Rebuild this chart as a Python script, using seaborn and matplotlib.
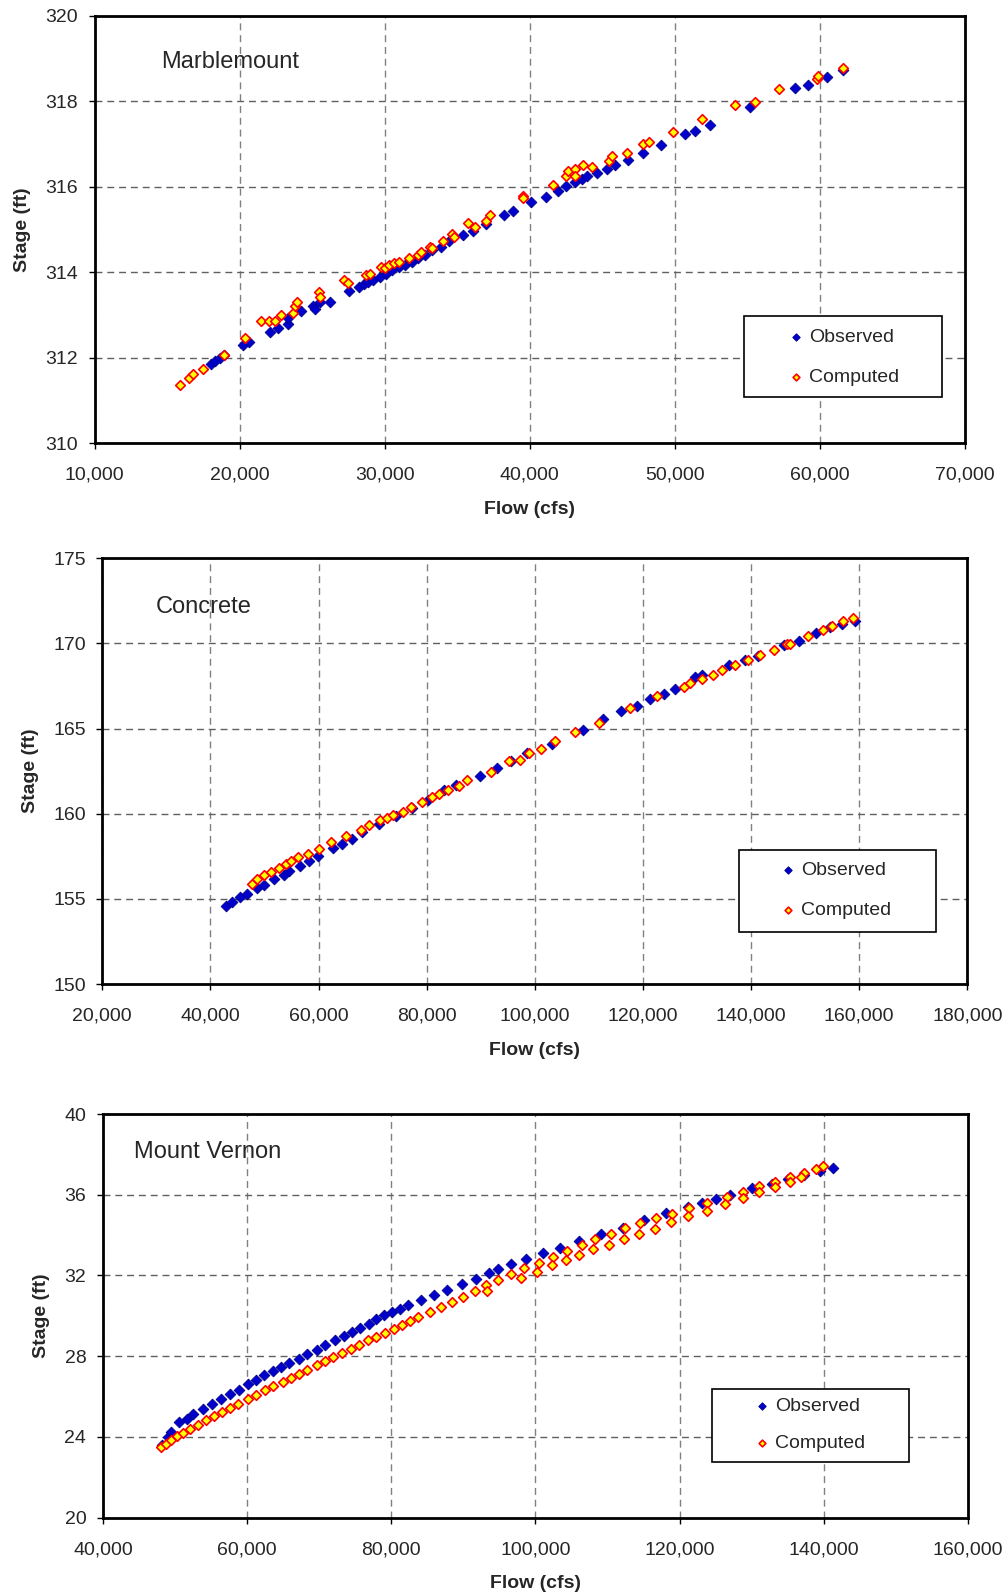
import numpy as np
import pandas as pd
import matplotlib
matplotlib.use("Agg")
import matplotlib.pyplot as plt
import seaborn as sns
from matplotlib.patches import Rectangle
from matplotlib.ticker import FuncFormatter

# ---- Marblemount ----
mm_obs_flow = [18030, 18300, 18650, 18900, 20240, 20640, 22100, 22640, 23300, 23300, 24200,
               25030, 25200, 25560, 26190, 27560, 28230, 28540, 28850, 29200, 29650, 30090,
               30530, 30980, 31420, 31860, 32300, 32750, 33280, 33860, 34430, 35410, 36070,
               36960, 38200, 38870, 40110, 41090, 41970, 42510, 43080, 43610, 43970, 44630,
               45340, 45880, 46760, 47830, 49020, 50710, 51370, 52440, 55190, 58290, 59180,
               60470, 61570]
mm_obs_stage = [311.85, 311.93, 312.0, 312.07, 312.3, 312.36, 312.6, 312.69, 312.8, 312.92, 313.1,
                313.2, 313.13, 313.3, 313.31, 313.55, 313.66, 313.72, 313.78, 313.82, 313.9, 313.96,
                314.05, 314.12, 314.17, 314.25, 314.33, 314.4, 314.52, 314.6, 314.72, 314.86, 314.96,
                315.13, 315.34, 315.43, 315.65, 315.77, 315.9, 316.02, 316.1, 316.18, 316.24, 316.33,
                316.41, 316.5, 316.63, 316.8, 316.98, 317.23, 317.3, 317.45, 317.86, 318.3, 318.39,
                318.57, 318.73]
mm_cmp_flow = [15850, 16470, 16780, 17490, 18910, 20380, 21490, 22020, 22460, 22860, 23660,
               23790, 23970, 25430, 25560, 27200, 27430, 28670, 28980, 29730, 30000, 30310,
               30620, 30980, 31640, 32300, 32530, 33100, 33280, 33990, 34610, 34790, 35720,
               36210, 36960, 37270, 39530, 39530, 41620, 42510, 42640, 43080, 43080, 43660,
               44280, 45430, 45650, 46720, 47830, 48180, 49870, 51860, 54170, 55500, 57190,
               59800, 59850, 61570]
mm_cmp_stage = [311.37, 311.53, 311.62, 311.74, 312.06, 312.46, 312.85, 312.87, 312.85, 313.0, 313.04,
                313.21, 313.31, 313.53, 313.41, 313.83, 313.76, 313.94, 313.96, 314.13, 314.1, 314.17,
                314.22, 314.25, 314.33, 314.4, 314.48, 314.6, 314.56, 314.74, 314.89, 314.83, 315.16,
                315.07, 315.2, 315.34, 315.79, 315.73, 316.03, 316.26, 316.37, 316.41, 316.24, 316.52,
                316.45, 316.61, 316.72, 316.8, 316.99, 317.04, 317.28, 317.58, 317.91, 317.97, 318.29,
                318.51, 318.6, 318.77]

# ---- Concrete ----
cc_obs_flow = [42840, 44030, 45460, 46770, 48550, 49980, 51760, 53550, 54500, 56520, 58310,
               59970, 62590, 64260, 66160, 68060, 71150, 74370, 77340, 80320, 83290, 85430,
               89830, 93040, 95540, 98520, 103270, 108860, 112670, 116000, 118970, 121350,
               123970, 125870, 129680, 130870, 135870, 138960, 141340, 146100, 148950, 152050,
               154660, 156800, 159190]
cc_obs_stage = [154.61, 154.83, 155.12, 155.28, 155.65, 155.84, 156.14, 156.43, 156.65, 156.94, 157.23,
                157.53, 157.96, 158.21, 158.54, 158.93, 159.42, 159.85, 160.36, 160.83, 161.38, 161.67,
                162.22, 162.71, 163.1, 163.57, 164.11, 164.93, 165.58, 166.01, 166.32, 166.71,
                167.04, 167.34, 168.02, 168.16, 168.71, 169.0, 169.29, 169.88, 170.17, 170.62,
                170.95, 171.15, 171.34]
cc_cmp_flow = [47600, 48550, 49980, 51170, 52600, 53900, 54980, 56280, 58070, 60090, 62350,
               65090, 67820, 69370, 71390, 72580, 73770, 75560, 77100, 79130, 80910, 82340,
               83890, 85910, 87460, 91860, 95190, 97330, 98990, 101130, 103750, 107440, 111840,
               117550, 122550, 127540, 128730, 130870, 133010, 134680, 137060, 139440, 141580,
               144200, 146580, 147290, 150500, 153240, 155020, 157050, 158830]
cc_cmp_stage = [155.9, 156.16, 156.39, 156.59, 156.82, 157.02, 157.21, 157.43, 157.66, 157.92, 158.31,
                158.68, 159.07, 159.32, 159.62, 159.77, 159.91, 160.11, 160.4, 160.69, 160.99, 161.18,
                161.38, 161.61, 161.96, 162.45, 163.1, 163.17, 163.58, 163.82, 164.27, 164.8, 165.32,
                166.2, 166.91, 167.44, 167.69, 167.89, 168.16, 168.45, 168.71, 169.0, 169.33,
                169.59, 169.94, 169.98, 170.41, 170.76, 171.01, 171.34, 171.5]

# ---- Mount Vernon ----
mv_obs_flow = [48200, 49000, 49370, 50530, 51600, 52490, 53830, 55170, 56330, 57660, 58910,
               60070, 61230, 62300, 63640, 64710, 65870, 67210, 68370, 69620, 70780, 72120,
               73450, 74610, 75680, 76840, 77910, 78980, 80140, 81210, 82370, 84160, 85940,
               87730, 89780, 91740, 93520, 94860, 96650, 98700, 101110, 103340, 106010, 109140,
               112080, 115120, 118060, 121180, 123140, 125020, 126980, 130100, 132780, 135010,
               137240, 139470, 141250]
mv_obs_stage = [23.6, 24.0, 24.25, 24.74, 24.91, 25.16, 25.4, 25.65, 25.87, 26.15, 26.35,
                26.61, 26.84, 27.06, 27.27, 27.47, 27.67, 27.88, 28.1, 28.33, 28.55, 28.79,
                28.99, 29.21, 29.4, 29.62, 29.82, 30.02, 30.2, 30.36, 30.56, 30.78, 31.02,
                31.27, 31.6, 31.85, 32.1, 32.31, 32.55, 32.81, 33.12, 33.37, 33.72, 34.05,
                34.36, 34.74, 35.11, 35.4, 35.57, 35.79, 35.98, 36.31, 36.53, 36.78,
                36.98, 37.17, 37.34]
mv_cmp_flow = [48030, 48740, 49370, 50260, 51150, 52130, 53200, 54270, 55430, 56500, 57660,
               58730, 60070, 61230, 62480, 63640, 64980, 66050, 67210, 68370, 69620, 70780,
               71940, 73180, 74340, 75500, 76750, 77910, 79070, 80320, 81480, 82640, 83710,
               85320, 86830, 88440, 89960, 91560, 93080, 94860, 96650, 98430, 100480, 102450,
               104410, 106460, 108250, 110470, 112440, 114490, 116720, 118950, 121360, 123860,
               126540, 128760, 130990, 133220, 135280, 137240, 138850, 139910,
               93260, 98000, 100210, 102270, 104230, 106010, 107980, 110210, 112260, 114310,
               116540, 118770, 121180, 123860, 126270, 128760, 130990, 133220, 135280, 136790]
mv_cmp_stage = [23.5, 23.67, 23.83, 24.03, 24.2, 24.41, 24.61, 24.83, 25.02, 25.24, 25.44,
                25.65, 25.9, 26.1, 26.31, 26.51, 26.73, 26.93, 27.14, 27.34, 27.55, 27.75,
                27.97, 28.17, 28.38, 28.58, 28.79, 28.96, 29.17, 29.37, 29.54, 29.74, 29.95,
                30.2, 30.45, 30.69, 30.94, 31.24, 31.52, 31.8, 32.07, 32.35, 32.63, 32.93,
                33.22, 33.5, 33.79, 34.08, 34.33, 34.58, 34.83, 35.07, 35.32, 35.57,
                35.9, 36.15, 36.43, 36.64, 36.86, 37.06, 37.26, 37.42,
                31.24, 31.9, 32.18, 32.51, 32.76, 33.0, 33.29, 33.52, 33.82, 34.08,
                34.3, 34.66, 34.94, 35.2, 35.54, 35.82, 36.15, 36.4, 36.61, 36.86]

panel_names = ["Marblemount", "Concrete", "Mount Vernon"]
x_limits = [(10000, 70000), (20000, 180000), (40000, 160000)]
x_steps = [10000, 20000, 20000]
y_limits = [(310, 320), (150, 175), (20, 40)]
y_steps = [2, 5, 4]

sns.set_style("white")
plt.rcParams["font.family"] = ["Liberation Sans", "DejaVu Sans"]

fig = plt.figure(figsize=(10.08, 15.95), dpi=100)

axes_rects = [[0.09395, 0.72207, 0.86339, 0.26809],
              [0.10149, 0.38307, 0.85813, 0.26690],
              [0.10218, 0.04846, 0.85813, 0.25310]]
ylabel_x = [-0.073, -0.073, -0.061]
xlabel_y = [-0.135, -0.136, -0.1415]
name_pos = [(0.076, 0.891), (0.0617, 0.885), (0.0356, 0.906)]
legend_box = [(0.7461, 0.1083, 0.2275, 0.1894),
              (0.7355, 0.1226, 0.2281, 0.1912),
              (0.7037, 0.1372, 0.2284, 0.1816)]
legend_anchor = [(0.7952, 0.2021), (0.7815, 0.2196), (0.7507, 0.2304)]
legend_spacing = [1.15, 1.15, 0.99]

data = [(mm_obs_flow, mm_obs_stage, mm_cmp_flow, mm_cmp_stage),
        (cc_obs_flow, cc_obs_stage, cc_cmp_flow, cc_cmp_stage),
        (mv_obs_flow, mv_obs_stage, mv_cmp_flow, mv_cmp_stage)]

comma = FuncFormatter(lambda v, p: f"{int(v):,}")

for i in range(3):
    ax = fig.add_axes(axes_rects[i])
    of, os_, cf, cs = data[i]
    obs = pd.DataFrame({"Flow": of, "Stage": os_})
    cmp_ = pd.DataFrame({"Flow": cf, "Stage": cs})
    sns.scatterplot(data=obs, x="Flow", y="Stage", marker="D", s=30, color="#0000CC",
                    edgecolor="#00008B", linewidth=0.6, ax=ax, zorder=3, label="Observed")
    sns.scatterplot(data=cmp_, x="Flow", y="Stage", marker="D", s=24, color="#FFFF00",
                    edgecolor="#FF0000", linewidth=1.2, ax=ax, zorder=4, label="Computed")

    ax.set_xlim(*x_limits[i])
    ax.set_ylim(*y_limits[i])
    ax.set_xticks(np.arange(x_limits[i][0], x_limits[i][1] + 1, x_steps[i]))
    ax.set_yticks(np.arange(y_limits[i][0], y_limits[i][1] + 0.1, y_steps[i]))
    ax.xaxis.set_major_formatter(comma)
    ax.grid(True, axis="x", color="#808080", linestyle=(0, (5, 3.5)), linewidth=1)
    ax.grid(True, axis="y", color="#606060", linestyle=(0, (5, 3.5)), linewidth=1)
    ax.set_axisbelow(True)
    for sp in ax.spines.values():
        sp.set_visible(True)
        sp.set_color("black")
        sp.set_linewidth(2)
    ax.tick_params(axis="both", which="major", direction="out", length=4, width=1,
                   color="black", labelsize=14, left=True, bottom=True)
    ax.tick_params(axis="x", pad=13)
    ax.tick_params(axis="y", pad=8)

    ax.set_xlabel("Flow (cfs)", fontsize=14, fontweight="bold")
    ax.set_ylabel("Stage (ft)", fontsize=14, fontweight="bold")
    ax.xaxis.set_label_coords(0.5, xlabel_y[i])
    ax.yaxis.set_label_coords(ylabel_x[i], 0.5)

    ax.text(name_pos[i][0], name_pos[i][1], panel_names[i], transform=ax.transAxes,
            fontsize=17, ha="left", va="center")

    bx, by, bw, bh = legend_box[i]
    ax.add_patch(Rectangle((bx, by), bw, bh, transform=ax.transAxes, facecolor="white",
                           edgecolor="black", linewidth=1.2, zorder=5))
    handles, labels = ax.get_legend_handles_labels()
    leg = ax.legend(handles, labels, loc="center left", bbox_to_anchor=legend_anchor[i],
                    frameon=False, fontsize=14, handlelength=1.0, handletextpad=0.15,
                    borderpad=0, borderaxespad=0, labelspacing=legend_spacing[i],
                    markerscale=0.7)
    leg.set_zorder(6)

fig.savefig("out.png", dpi=100)
